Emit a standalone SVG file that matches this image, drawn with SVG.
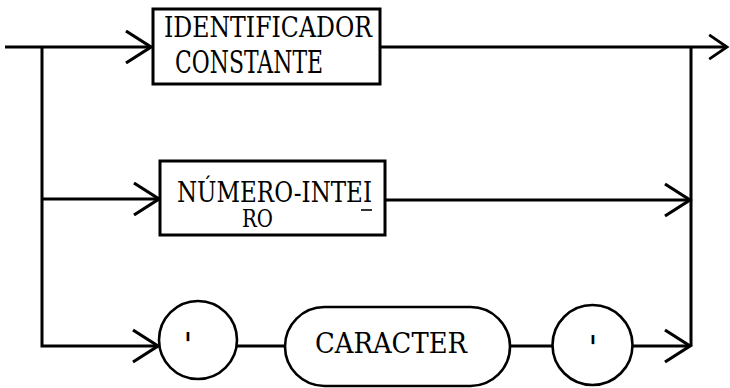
<svg xmlns="http://www.w3.org/2000/svg" width="730" height="388" viewBox="0 0 730 388">
  <defs>
    <marker id="chev" markerUnits="userSpaceOnUse" markerWidth="40" markerHeight="40" viewBox="-30 -20 34 40" refX="0" refY="0" orient="auto" overflow="visible">
      <path d="M-25,-16 L0,0 L-25,16" fill="none" stroke="#000" stroke-width="3.2"/>
    </marker>
    <marker id="chev-small" markerUnits="userSpaceOnUse" markerWidth="30" markerHeight="30" viewBox="-24 -16 28 32" refX="0" refY="0" orient="auto" overflow="visible">
      <path d="M-19,-13 L0,0 L-19,13" fill="none" stroke="#000" stroke-width="3"/>
    </marker>
    <style>
      .ln { fill: none; stroke: #000; stroke-width: 3; }
      .box { fill: #fff; stroke: #000; stroke-width: 3; }
      .term { fill: #fff; stroke: #000; stroke-width: 2.6; }
      text { font-family: 'DejaVu Serif', 'Liberation Serif', serif; fill: #000; }
    </style>
  </defs>

  <g id="connectors">
    <path class="ln" d="M5,47 H151" marker-end="url(#chev)"/>
    <path class="ln" d="M380,47 H727" marker-end="url(#chev-small)"/>
    <path class="ln" d="M42,47 V346 H158" marker-end="url(#chev)"/>
    <path class="ln" d="M42,199 H159" marker-end="url(#chev)"/>
    <path class="ln" d="M385,200 H690" marker-end="url(#chev)"/>
    <path class="ln" d="M691,47 V346"/>
    <path class="ln" d="M237,346 H285"/>
    <path class="ln" d="M510,346 H553"/>
    <path class="ln" d="M632,346 H690" marker-end="url(#chev)"/>
  </g>

  <g id="identificador-constante">
    <rect class="box" x="153" y="9" width="227" height="75"/>
    <text x="164" y="37" font-size="27" textLength="208" lengthAdjust="spacingAndGlyphs">IDENTIFICADOR</text>
    <text x="175" y="73" font-size="31" textLength="148" lengthAdjust="spacingAndGlyphs">CONSTANTE</text>
  </g>

  <g id="numero-inteiro">
    <rect class="box" x="160" y="161" width="225" height="74"/>
    <text x="177" y="202" font-size="27" textLength="195" lengthAdjust="spacingAndGlyphs">NÚMERO-INTEI</text>
    <line x1="361" y1="210" x2="372" y2="210" stroke="#000" stroke-width="1.6"/>
    <text x="242" y="227" font-size="25" textLength="31" lengthAdjust="spacingAndGlyphs">RO</text>
  </g>

  <g id="aspas-abre">
    <circle class="term" cx="198" cy="340" r="39"/>
    <text x="188" y="357" font-size="34" text-anchor="middle">'</text>
  </g>

  <g id="caracter">
    <rect class="term" x="285" y="307" width="225" height="79" rx="39.5" ry="39.5"/>
    <text x="315" y="353" font-size="27" textLength="152" lengthAdjust="spacingAndGlyphs">CARACTER</text>
  </g>

  <g id="aspas-fecha">
    <circle class="term" cx="592.5" cy="345" r="40"/>
    <text x="593" y="360" font-size="34" text-anchor="middle">'</text>
  </g>
</svg>
